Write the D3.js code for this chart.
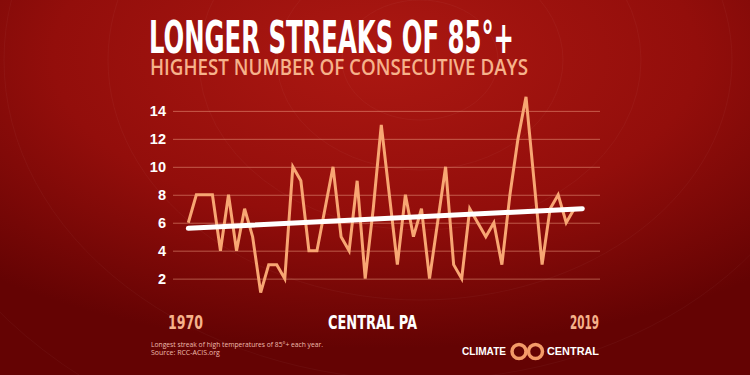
<!DOCTYPE html>
<html>
<head>
<meta charset="utf-8">
<script src="https://cdn.jsdelivr.net/npm/d3@7"></script>
<style>
  html, body { margin: 0; padding: 0; background: #8a0d0a; }
  svg { display: block; }
</style>
</head>
<body>
<div id="chart"></div>
<script>
// longest streak of 85F+ days, Central PA
var years = d3.range(1970, 2019);
var streaks = [6, 8, 8, 8, 4, 8, 4, 7, 5, 1,
               3, 3, 2, 10, 9, 4, 4, 7, 10, 5,
               4, 9, 2, 7, 13, 8, 3, 8, 5, 7,
               2, 6, 10, 3, 2, 7, 6, 5, 6, 3,
               8, 12, 15, 9, 3, 7, 8, 6, 7];
var trendYears = [1970, 2019];
var trendValues = [5.6, 7.0];
var yTicks = [2, 4, 6, 8, 10, 12, 14];

var W = 750, H = 375;
var svg = d3.select("#chart").append("svg")
	.attr("width", W)
	.attr("height", H);

var defs = svg.append("defs");
var bg = defs.append("radialGradient")
	.attr("id", "bg")
	.attr("cx", "50%").attr("cy", "15%")
	.attr("r", "78%");
bg.append("stop").attr("offset", "0%").attr("stop-color", "#ac1812");
bg.append("stop").attr("offset", "55%").attr("stop-color", "#930e0b");
bg.append("stop").attr("offset", "100%").attr("stop-color", "#640303");

svg.append("rect")
	.attr("width", W).attr("height", H)
	.style("fill", "url(#bg)");

// faint contour rings in the background
var rings = svg.append("g").attr("fill", "none")
	.attr("stroke", "#ffffff").attr("stroke-opacity", 0.035).attr("stroke-width", 1);
[60, 110, 170, 240, 320, 410].forEach(function(r) {
	rings.append("ellipse").attr("cx", 420).attr("cy", 60).attr("rx", r * 1.3).attr("ry", r);
});

var x = d3.scaleLinear().domain([1970, 2019]).range([188.3, 582.3]);
var y = d3.scaleLinear().domain([0, 15]).range([306.6, 96.9]);

// gridlines + tick labels
var yAxis = d3.axisLeft(y)
	.tickValues(yTicks)
	.tickSize(-(600 - 173))
	.tickPadding(7);
var gy = svg.append("g")
	.attr("transform", "translate(173,0)")
	.call(yAxis);
gy.select(".domain").remove();
gy.selectAll(".tick line")
	.attr("stroke", "#f3a58a")
	.attr("stroke-opacity", 0.5)
	.attr("stroke-width", 1);
gy.selectAll(".tick text")
	.attr("fill", "#ffffff")
	.style("font-family", "'Liberation Sans', Arial, sans-serif")
	.style("font-weight", "bold")
	.style("font-size", "14.5px");

var line = d3.line()
	.x(function(d, i) { return x(years[i]); })
	.y(function(d) { return y(d); })
	.curve(d3.curveLinear);

svg.append("path")
	.datum(streaks)
	.attr("d", line)
	.attr("fill", "none")
	.attr("stroke", "#f8a673")
	.attr("stroke-width", 3)
	.attr("stroke-linejoin", "miter");

svg.append("path")
	.datum(trendValues)
	.attr("d", d3.line()
		.x(function(d, i) { return x(trendYears[i]); })
		.y(function(d) { return y(d); }))
	.attr("fill", "none")
	.attr("stroke", "#ffffff")
	.attr("stroke-width", 5)
	.attr("stroke-linecap", "round");

// titles
var condensed = "'Liberation Sans Narrow', 'DejaVu Sans Condensed', sans-serif";
svg.append("text")
	.attr("x", 149).attr("y", 52.5)
	.attr("textLength", 365)
	.attr("lengthAdjust", "spacingAndGlyphs")
	.attr("fill", "#ffffff")
	.style("font-family", condensed)
	.style("font-weight", "bold")
	.style("font-size", "44px")
	.text("LONGER STREAKS OF 85°+");

svg.append("text")
	.attr("x", 150).attr("y", 75)
	.attr("textLength", 378)
	.attr("lengthAdjust", "spacingAndGlyphs")
	.attr("fill", "#f6b28b")
	.style("font-family", "'Open Sans', sans-serif")
	.style("font-weight", 600)
	.style("font-size", "21.5px")
	.text("HIGHEST NUMBER OF CONSECUTIVE DAYS");

// bottom labels
function label(txt, xPos, anchor, len, color) {
	svg.append("text")
		.attr("x", xPos).attr("y", 329)
		.attr("text-anchor", anchor)
		.attr("textLength", len)
		.attr("lengthAdjust", "spacingAndGlyphs")
		.attr("fill", color)
		.style("font-family", condensed)
		.style("font-weight", "bold")
		.style("font-size", "19.5px")
		.text(txt);
}
label("1970", 168, "start", 35, "#f6b28b");
label("CENTRAL PA", 328, "start", 89, "#ffffff");
label("2019", 570, "start", 29, "#f6b28b");

// footnote
var foot = svg.append("text")
	.attr("fill", "#efbcae")
	.style("font-family", "'Open Sans', sans-serif")
	.style("font-size", "7px");
foot.append("tspan").attr("x", 151).attr("y", 347)
	.attr("textLength", 172).attr("lengthAdjust", "spacingAndGlyphs")
	.text("Longest streak of high temperatures of 85°+  each year.");
foot.append("tspan").attr("x", 151).attr("y", 355)
	.text("Source: RCC-ACIS.org");

// logo
var logo = svg.append("g");
logo.append("text")
	.attr("x", 462).attr("y", 355)
	.attr("textLength", 44).attr("lengthAdjust", "spacingAndGlyphs")
	.attr("fill", "#ffffff")
	.style("font-family", "'Liberation Sans', sans-serif")
	.style("font-weight", "bold")
	.style("font-size", "10px")
	.text("CLIMATE");
logo.append("text")
	.attr("x", 547).attr("y", 355)
	.attr("textLength", 52).attr("lengthAdjust", "spacingAndGlyphs")
	.attr("fill", "#ffffff")
	.style("font-family", "'Liberation Sans', sans-serif")
	.style("font-weight", "bold")
	.style("font-size", "10px")
	.text("CENTRAL");
[519, 535.5].forEach(function(cx) {
	logo.append("circle")
		.attr("cx", cx).attr("cy", 351.5)
		.attr("r", 7)
		.attr("fill", "none")
		.attr("stroke", "#f39a68")
		.attr("stroke-width", 3.5);
});
</script>
</body>
</html>
